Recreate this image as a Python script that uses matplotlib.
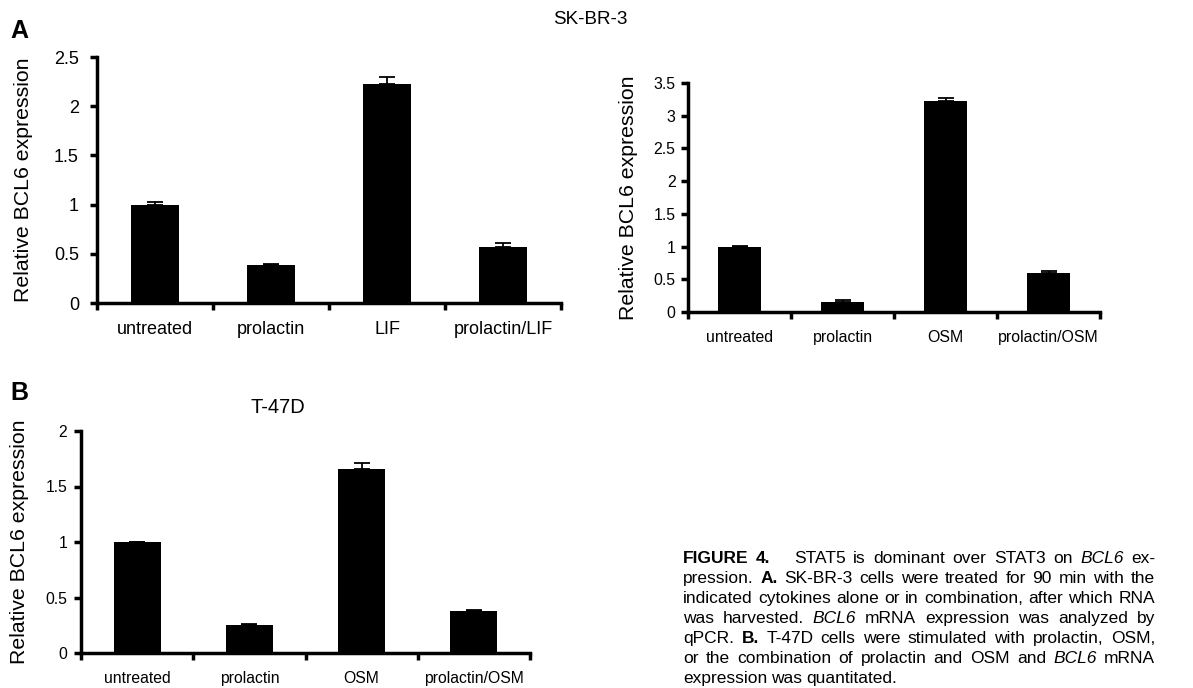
import matplotlib
matplotlib.use('Agg')
import matplotlib.pyplot as plt
import numpy as np

plt.rcParams['font.family'] = ['Liberation Sans', 'DejaVu Sans']

# panel A, left: SK-BR-3 with LIF
cats_a1 = ['untreated', 'prolactin', 'LIF', 'prolactin/LIF']
vals_a1 = [1.0, 0.39, 2.23, 0.57]
errs_a1 = [0.03, 0.01, 0.07, 0.04]

# panel A, right: SK-BR-3 with OSM
cats_a2 = ['untreated', 'prolactin', 'OSM', 'prolactin/OSM']
vals_a2 = [1.0, 0.16, 3.23, 0.60]
errs_a2 = [0.005, 0.02, 0.04, 0.02]

# panel B: T-47D with OSM
cats_b = ['untreated', 'prolactin', 'OSM', 'prolactin/OSM']
vals_b = [1.0, 0.25, 1.66, 0.38]
errs_b = [0.003, 0.01, 0.05, 0.01]

W, H = 1193, 688
fig = plt.figure(figsize=(W/100, H/100), dpi=100)


def box(x0, x1, y0, y1):
    # pixel box -> figure fraction rect
    return [x0/W, 1-y0/H, (x1-x0)/W, (y0-y1)/H]


def bar_panel(ax, cats, vals, errs, ymax, step, fs, lfs, ypad, lpad):
    x = np.arange(len(cats)) + 0.5
    ax.bar(x, vals, width=0.42, color='black', zorder=2)
    ax.errorbar(x, vals, yerr=[np.zeros(len(vals)), errs], fmt='none',
                ecolor='black', elinewidth=1.3, capsize=6, capthick=1.3, zorder=3)
    ax.set_xlim(0, len(cats))
    ax.set_ylim(0, ymax)
    ticks = np.arange(0, ymax + 1e-9, step)
    ax.set_yticks(ticks)
    ax.set_yticklabels(['%g' % t for t in ticks], fontsize=fs)
    ax.set_xticks(np.arange(len(cats) + 1))
    ax.set_xticklabels([])
    ax.set_xticks(x, minor=True)
    ax.set_xticklabels(cats, minor=True, fontsize=fs)
    ax.tick_params(axis='x', which='minor', length=0, pad=13)
    ax.tick_params(axis='x', which='major', length=5, width=2.5, direction='out')
    ax.tick_params(axis='y', length=5, width=2.5, direction='out', pad=ypad)
    for s in ['top', 'right']:
        ax.spines[s].set_visible(False)
    for s in ['left', 'bottom']:
        ax.spines[s].set_linewidth(2.5)
    ax.set_ylabel('Relative BCL6 expression', fontsize=lfs, labelpad=lpad)


ax1 = fig.add_axes(box(97, 561, 303, 57))
bar_panel(ax1, cats_a1, vals_a1, errs_a1, 2.5, 0.5, 13, 15.3, 8, 15)

ax2 = fig.add_axes(box(688, 1100, 312, 83))
bar_panel(ax2, cats_a2, vals_a2, errs_a2, 3.5, 0.5, 11.4, 15.3, 4, 11)

ax3 = fig.add_axes(box(81, 530, 653, 431))
bar_panel(ax3, cats_b, vals_b, errs_b, 2.0, 0.5, 11.3, 15.3, 5, 12)

fig.text(590/W, 1-20/H, 'SK-BR-3', fontsize=13.6, ha='center', va='center')
fig.text(278/W, 1-407/H, 'T-47D', fontsize=14.5, ha='center', va='center')
fig.text(10/W, 1-31/H, 'A', fontsize=18, fontweight='bold', ha='left', va='center')
fig.text(10/W, 1-393/H, 'B', fontsize=18, fontweight='bold', ha='left', va='center')

# caption, laid out word by word and justified
caption = [
    [('FIGURE 4.', 'bold'), ('STAT5 is dominant over STAT3 on', 'normal'), ('BCL6', 'italic'), ('ex-', 'normal')],
    [('pression.', 'normal'), ('A.', 'bold'), ('SK-BR-3 cells were treated for 90 min with the', 'normal')],
    [('indicated cytokines alone or in combination, after which RNA', 'normal')],
    [('was harvested.', 'normal'), ('BCL6', 'italic'), ('mRNA expression was analyzed by', 'normal')],
    [('qPCR.', 'normal'), ('B.', 'bold'), ('T-47D cells were stimulated with prolactin, OSM,', 'normal')],
    [('or the combination of prolactin and OSM and', 'normal'), ('BCL6', 'italic'), ('mRNA', 'normal')],
    [('expression was quantitated.', 'normal')],
]
cx0, cx1 = 683, 1155
cy0, dy = 563, 20
cfs = 12.5
fig.canvas.draw()
renderer = fig.canvas.get_renderer()


def style_kw(st):
    if st == 'bold':
        return dict(fontweight='bold')
    if st == 'italic':
        return dict(fontstyle='italic')
    return {}


for li, line in enumerate(caption):
    words = []
    for seg, st in line:
        for w in seg.split(' '):
            if w:
                words.append((w, st))
    widths = []
    for w, st in words:
        t = fig.text(0, 0, w, fontsize=cfs, **style_kw(st))
        widths.append(t.get_window_extent(renderer).width)
        t.remove()
    y = 1 - (cy0 + li*dy)/H
    extra = 16 if li == 0 else 0  # wider gap after the figure label
    if li == len(caption) - 1:
        gap = 3.8
    else:
        gap = max(2.0, (cx1 - cx0 - extra - sum(widths)) / (len(words) - 1))
    xx = cx0
    for i, ((w, st), wd) in enumerate(zip(words, widths)):
        fig.text(xx/W, y, w, fontsize=cfs, ha='left', va='baseline', **style_kw(st))
        xx += wd + gap
        if li == 0 and i == 1:
            xx += extra

fig.savefig('out.png', dpi=100)
